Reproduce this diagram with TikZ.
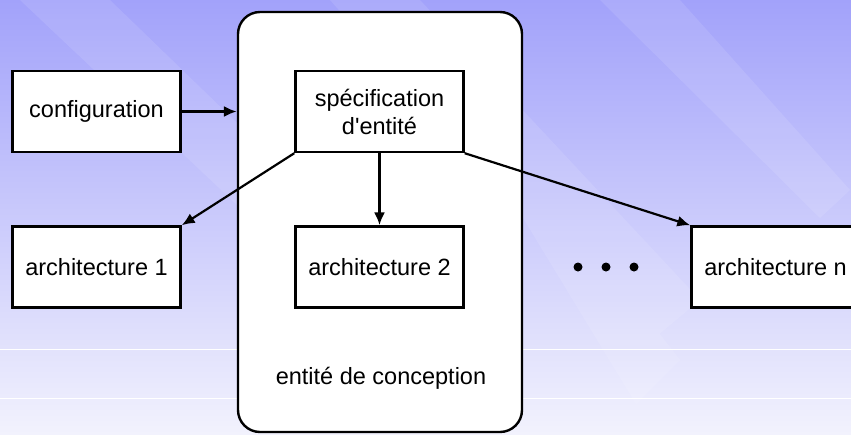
\documentclass[tikz,border=0pt]{standalone}
\usepackage{fontspec}
\setmainfont{Liberation Sans}[Ligatures=TeXOff]
\usetikzlibrary{arrows.meta}

\begin{document}
\begin{tikzpicture}[x=1pt, y=-1pt,
        box/.style={draw, rectangle, fill=white, line width=2.4pt,
            minimum width=168pt, minimum height=81pt, align=center},
        fleche/.style={line width=2.2pt, -{Latex[length=13pt, width=11pt]}},
        point/.style={circle, fill=black, inner sep=0pt, minimum size=9pt}
    ]
    \useasboundingbox (0, 0) rectangle (851, 434);
    \clip (0, 0) rectangle (851, 434);

    % fond
    \shade[top color={rgb,255:red,162;green,162;blue,250},
           bottom color={rgb,255:red,242;green,242;blue,253}]
        (0, 0) rectangle (851, 434);
    \fill[white, opacity=0.1]
        (20, 0) -- (110, 0) -- (420, 300) -- (380, 340) -- cycle
        (330, 0) -- (420, 0) -- (700, 300) -- (640, 350) -- cycle
        (600, 0) -- (680, 0) -- (850, 190) -- (820, 218) -- cycle
        (500, 180) -- (540, 180) -- (680, 360) -- (636, 404) -- cycle
    ;
    \draw[white, line width=0.8pt]
        (0, 349) -- (851, 349)
        (0, 398) -- (851, 398)
    ;

    \node (entite) [draw, rectangle, rounded corners=22pt, fill=white,
        line width=2.4pt, minimum width=284pt, minimum height=420pt]
        at (380, 222) {};

    \fontsize{23.5}{28}\selectfont
    \draw
        (96.5, 111.5) node (conf) [box] {configuration}
        (379.5, 111.5) node (spec) [box] {spécification\\d'entité}
        (96.5, 267) node (arch1) [box] {architecture 1}
        (379.5, 267) node (arch2) [box] {architecture 2}
        (775.5, 267) node (archn) [box] {architecture n}
        (381, 378) node (nom) {entité de conception}
    ;

    \foreach \i/\x in {1/578, 2/606, 3/634}
        \node (dot\i) [point] at (\x, 267) {};

    \draw[fleche] (conf.east) -- (conf.east -| entite.west);
    \draw[fleche] (spec.south west) -- (arch1.north east);
    \draw[fleche] (spec.south) -- (arch2.north);
    \draw[fleche] (spec.south east) -- (archn.north west);

\end{tikzpicture}
\end{document}
